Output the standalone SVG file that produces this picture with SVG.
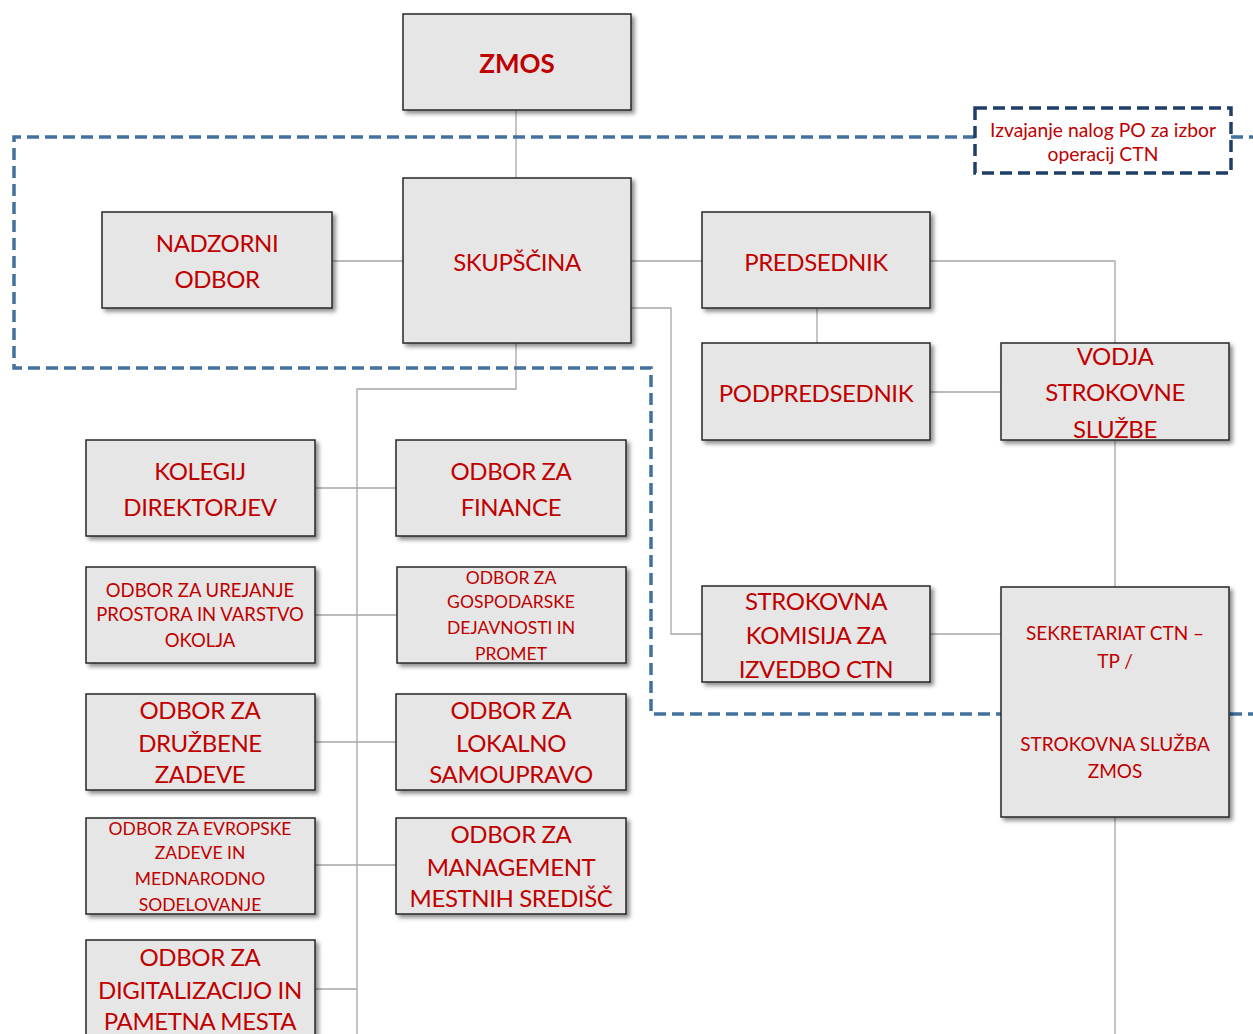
<svg xmlns="http://www.w3.org/2000/svg" width="1253" height="1034" viewBox="0 0 1253 1034">
<defs>
<filter id="sh" x="-10%" y="-10%" width="125%" height="130%">
<feDropShadow dx="3" dy="3" stdDeviation="2" flood-color="#000" flood-opacity="0.45"/>
</filter>
<style>
.box{fill:#e6e6e6;stroke:#262626;stroke-width:1.5;filter:url(#sh)}
.t{font-family:Lato,"Liberation Sans",sans-serif;fill:#c00000;text-anchor:middle;dominant-baseline:central}
.L{font-size:24px;letter-spacing:-0.4px}
.M{font-size:19px}
.S{font-size:17.5px}
.S2{font-size:18.5px}
.Q{font-size:19.3px}
.c{fill:none;stroke:#a6a6a6;stroke-width:1.3}
.d{fill:none;stroke:#41719c;stroke-width:3.5;stroke-dasharray:12 6}
.lb{fill:#fff;stroke:#1f3f66;stroke-width:3.5;stroke-dasharray:12 6}
</style>
</defs>
<rect width="1253" height="1034" fill="#fff"/>

<g id="connectors">
<path class="c" d="M516 110V178"/>
<path class="c" d="M332 261H403"/>
<path class="c" d="M631 261H702"/>
<path class="c" d="M930 261H1115V343"/>
<path class="c" d="M817 308V343"/>
<path class="c" d="M930 392H1001"/>
<path class="c" d="M1115 440V587"/>
<path class="c" d="M1115 817V1034"/>
<path class="c" d="M930 634H1001"/>
<path class="c" d="M631 308H671V634H702"/>
<path class="c" d="M516 343V389H357V1034"/>
<path class="c" d="M315 488H396"/>
<path class="c" d="M315 615H396"/>
<path class="c" d="M315 742H396"/>
<path class="c" d="M315 865H396"/>
<path class="c" d="M315 989H357"/>
</g>

<g id="boundary">
<path class="d" d="M975 137H14V368H651V714H1253"/>
<path class="d" d="M1231 137H1253"/>
</g>

<g id="label">
<rect class="lb" x="975" y="108" width="256" height="65"/>
<text class="t Q" x="1103" y="129">Izvajanje nalog PO za izbor</text>
<text class="t Q" x="1103" y="153">operacij CTN</text>
</g>

<g id="zmos"><rect class="box" x="403" y="14" width="228" height="96"/>
<text class="t" x="517" y="63" style="font-size:26px;font-weight:bold">ZMOS</text></g>

<g id="skupscina"><rect class="box" x="403" y="178" width="228" height="165"/>
<text class="t L" x="517" y="261">SKUPŠČINA</text></g>

<g id="nadzorni"><rect class="box" x="102" y="212" width="230" height="96"/>
<text class="t L" x="217" y="242">NADZORNI</text>
<text class="t L" x="217" y="278">ODBOR</text></g>

<g id="predsednik"><rect class="box" x="702" y="212" width="228" height="96"/>
<text class="t L" x="816" y="261">PREDSEDNIK</text></g>

<g id="podpredsednik"><rect class="box" x="702" y="343" width="228" height="97"/>
<text class="t L" x="816" y="392">PODPREDSEDNIK</text></g>

<g id="vodja"><rect class="box" x="1001" y="343" width="228" height="97"/>
<text class="t L" x="1115" y="355">VODJA</text>
<text class="t L" x="1115" y="391">STROKOVNE</text>
<text class="t L" x="1115" y="428">SLUŽBE</text></g>

<g id="komisija"><rect class="box" x="702" y="586" width="228" height="96"/>
<text class="t L" x="816" y="600">STROKOVNA</text>
<text class="t L" x="816" y="634">KOMISIJA ZA</text>
<text class="t L" x="816" y="668">IZVEDBO CTN</text></g>

<g id="sekretariat"><rect class="box" x="1001" y="587" width="228" height="230"/>
<text class="t M" x="1115" y="632">SEKRETARIAT CTN –</text>
<text class="t M" x="1115" y="660">TP /</text>
<text class="t M" x="1115" y="743">STROKOVNA SLUŽBA</text>
<text class="t M" x="1115" y="770">ZMOS</text></g>

<g id="kolegij"><rect class="box" x="86" y="440" width="229" height="96"/>
<text class="t L" x="200" y="470">KOLEGIJ</text>
<text class="t L" x="200" y="506">DIREKTORJEV</text></g>

<g id="finance"><rect class="box" x="396" y="440" width="230" height="96"/>
<text class="t L" x="511" y="470">ODBOR ZA</text>
<text class="t L" x="511" y="506">FINANCE</text></g>

<g id="urejanje"><rect class="box" x="86" y="567" width="229" height="96"/>
<text class="t S2" x="200" y="590">ODBOR ZA UREJANJE</text>
<text class="t S2" x="200" y="614">PROSTORA IN VARSTVO</text>
<text class="t S2" x="200" y="640">OKOLJA</text></g>

<g id="gospodarske"><rect class="box" x="397" y="567" width="229" height="96"/>
<text class="t S" x="511" y="577">ODBOR ZA</text>
<text class="t S" x="511" y="601">GOSPODARSKE</text>
<text class="t S" x="511" y="627">DEJAVNOSTI IN</text>
<text class="t S" x="511" y="653">PROMET</text></g>

<g id="druzbene"><rect class="box" x="86" y="694" width="229" height="96"/>
<text class="t L" x="200" y="709">ODBOR ZA</text>
<text class="t L" x="200" y="742">DRUŽBENE</text>
<text class="t L" x="200" y="773">ZADEVE</text></g>

<g id="lokalno"><rect class="box" x="396" y="694" width="230" height="96"/>
<text class="t L" x="511" y="709">ODBOR ZA</text>
<text class="t L" x="511" y="742">LOKALNO</text>
<text class="t L" x="511" y="773">SAMOUPRAVO</text></g>

<g id="evropske"><rect class="box" x="86" y="818" width="229" height="96"/>
<text class="t S" x="200" y="828">ODBOR ZA EVROPSKE</text>
<text class="t S" x="200" y="852">ZADEVE IN</text>
<text class="t S" x="200" y="878">MEDNARODNO</text>
<text class="t S" x="200" y="904">SODELOVANJE</text></g>

<g id="management"><rect class="box" x="396" y="818" width="230" height="96"/>
<text class="t L" x="511" y="833">ODBOR ZA</text>
<text class="t L" x="511" y="866">MANAGEMENT</text>
<text class="t L" x="511" y="897">MESTNIH SREDIŠČ</text></g>

<g id="digitalizacija"><rect class="box" x="86" y="940" width="229" height="110"/>
<text class="t L" x="200" y="956">ODBOR ZA</text>
<text class="t L" x="200" y="989">DIGITALIZACIJO IN</text>
<text class="t L" x="200" y="1020">PAMETNA MESTA</text></g>
</svg>
